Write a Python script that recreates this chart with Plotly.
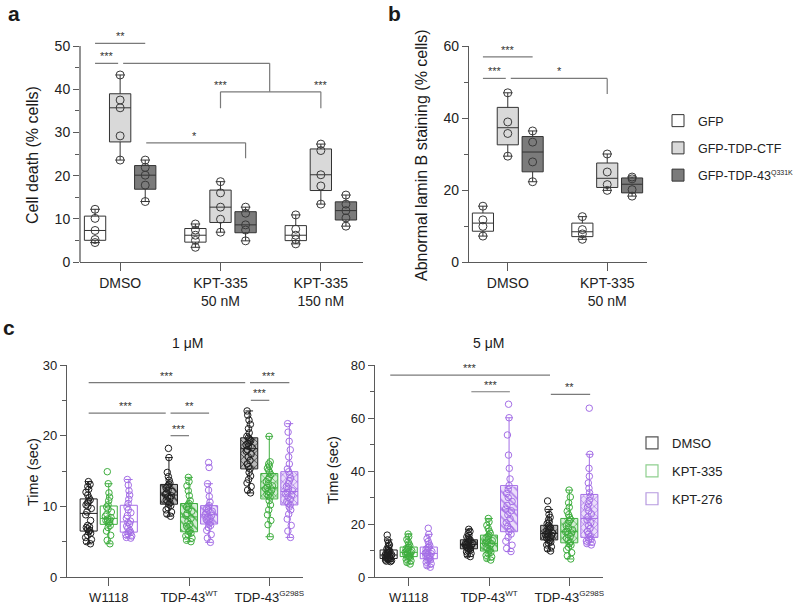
import numpy as np
import plotly.graph_objects as go

W, H = 800, 604
FONT = "Liberation Sans, Arial, Helvetica, sans-serif"


def px(x):
    return x / W


def py(y):
    return 1 - y / H


# ---------------- Panel a data ----------------
A_CATS = ["DMSO", "KPT-335<br>50 nM", "KPT-335<br>150 nM"]
A_SERIES = ["GFP", "GFP-TDP-CTF", "GFP-TDP-43<sup><span style='font-size:7px'>Q331K</span></sup>"]
A_GFP = [[12.2, 10.1, 7.3, 5.2, 4.5], [8.8, 7.4, 6.2, 5.0, 3.4], [10.9, 7.6, 6.2, 5.2, 4.2]]
A_CTF = [[43.3, 37.5, 35.7, 29.2, 23.6], [18.6, 16.0, 12.7, 9.9, 6.9], [27.3, 25.8, 20.2, 17.6, 13.4]]
A_Q331K = [[23.6, 21.9, 20.1, 17.8, 14.0], [12.7, 11.3, 8.6, 7.4, 4.9], [15.5, 13.4, 11.9, 10.2, 8.3]]

# ---------------- Panel b data ----------------
B_CATS = ["DMSO", "KPT-335<br>50 nM"]
B_GFP = [[15.5, 11.7, 9.9, 7.2], [12.6, 9.0, 7.8, 6.3]]
B_CTF = [[47.0, 38.9, 35.7, 29.4], [30.0, 25.0, 21.5, 19.9]]
B_Q331K = [[36.4, 33.3, 27.8, 22.3], [23.6, 23.1, 20.1, 18.3]]

# ---------------- Panel c data ----------------
C_CATS = ["W1118", "TDP-43<sup><span style='font-size:8px'>WT</span></sup>",
          "TDP-43<sup><span style='font-size:8px'>G298S</span></sup>"]
C_SERIES = ["DMSO", "KPT-335", "KPT-276"]

# 1 uM
C1_DMSO = [
    [4.7, 5.0, 5.3, 5.6, 5.9, 6.2, 6.4, 6.6, 6.8, 7.0, 7.1, 7.3, 8.0, 8.8, 9.2, 9.7, 10.0, 10.2, 10.5, 10.7,
     10.9, 11.2, 11.6, 12.0, 12.4, 12.8, 13.1, 13.5],
    [8.6, 8.9, 9.2, 9.5, 9.8, 10.1, 10.3, 10.5, 10.7, 10.9, 11.1, 11.3, 11.5, 11.7, 11.9, 12.1, 12.3, 12.6,
     12.9, 13.1, 13.3, 13.7, 14.2, 14.8, 16.9, 18.2],
    [11.9, 12.3, 12.8, 13.3, 13.8, 14.3, 14.8, 15.3, 15.6, 16.0, 16.5, 17.0, 17.4, 17.8, 18.0, 18.3, 18.5,
     18.7, 18.9, 19.1, 19.3, 19.5, 19.7, 19.9, 20.4, 21.0, 21.6, 22.2, 22.9, 23.5],
]
C1_KPT335 = [
    [4.7, 5.2, 5.9, 6.5, 7.0, 7.3, 7.6, 7.8, 7.9, 8.0, 8.1, 8.2, 8.4, 8.6, 8.9, 9.2, 9.6, 9.9, 10.2, 10.8,
     11.3, 11.9, 13.2, 14.9],
    [5.0, 5.2, 5.5, 5.8, 6.0, 6.2, 6.4, 6.6, 6.9, 7.2, 7.5, 7.9, 8.3, 8.7, 9.0, 9.3, 9.6, 9.9, 10.2, 10.4,
     10.8, 11.5, 12.2, 12.9, 13.5, 14.1],
    [5.7, 7.4, 8.0, 8.8, 9.5, 10.2, 10.8, 11.3, 11.5, 11.7, 11.9, 12.1, 12.3, 12.5, 12.7, 12.9, 13.2, 13.5,
     13.8, 14.1, 14.5, 14.8, 15.1, 15.4, 15.7, 16.0, 16.3, 19.9],
]
C1_KPT276 = [
    [5.5, 5.6, 5.8, 6.0, 6.1, 6.3, 6.4, 6.6, 6.9, 7.2, 7.5, 7.7, 7.9, 8.3, 8.7, 9.1, 9.5, 9.9, 10.4, 11.0,
     11.6, 12.2, 13.0, 13.8],
    [4.9, 5.5, 6.0, 6.6, 7.0, 7.3, 7.5, 7.7, 7.9, 8.1, 8.3, 8.5, 8.7, 8.9, 9.1, 9.3, 9.5, 9.7, 9.9, 10.1,
     10.6, 11.4, 12.3, 13.2, 15.5, 16.2],
    [5.6, 6.5, 7.3, 8.2, 8.9, 9.5, 9.9, 10.2, 10.4, 10.7, 11.0, 11.3, 11.6, 11.8, 12.0, 12.2, 12.5, 12.8,
     13.2, 13.6, 14.0, 14.5, 14.9, 15.3, 16.0, 17.0, 18.0, 19.2, 20.5, 21.7],
]

# 5 uM
C5_DMSO = [
    [5.8, 6.0, 6.2, 6.4, 6.6, 6.8, 6.9, 7.0, 7.2, 7.4, 7.6, 7.8, 8.0, 8.1, 8.2, 8.4, 8.6, 8.8, 9.0, 9.3,
     9.6, 9.9, 10.2, 10.5, 10.9, 11.5, 12.1, 12.8, 14.0, 15.8],
    [7.7, 8.3, 8.9, 9.5, 9.9, 10.2, 10.5, 10.8, 11.0, 11.3, 11.6, 11.8, 12.0, 12.2, 12.4, 12.6, 12.8, 13.0,
     13.3, 13.6, 13.9, 14.2, 14.6, 15.1, 15.7, 16.4, 17.2, 18.0],
    [9.8, 10.6, 11.4, 12.1, 12.7, 13.2, 13.6, 14.0, 14.3, 14.7, 15.0, 15.3, 15.7, 16.0, 16.3, 16.6, 16.9,
     17.2, 17.6, 18.0, 18.5, 19.0, 19.5, 20.1, 20.8, 21.6, 22.5, 23.6, 25.5, 28.7],
]
C5_KPT335 = [
    [4.9, 5.5, 6.1, 6.7, 7.1, 7.4, 7.7, 7.9, 8.2, 8.5, 8.8, 9.0, 9.2, 9.4, 9.6, 9.9, 10.3, 10.7, 11.0, 11.3,
     11.8, 12.5, 13.3, 14.2, 15.2, 16.2],
    [6.4, 7.0, 7.6, 8.2, 8.8, 9.3, 9.8, 10.3, 10.8, 11.3, 11.8, 12.3, 12.6, 12.8, 13.2, 13.7, 14.2, 14.8,
     15.3, 15.8, 16.5, 17.3, 18.3, 19.5, 20.8, 22.1],
    [6.8, 8.0, 9.2, 10.3, 11.2, 12.0, 12.6, 13.2, 13.9, 14.6, 15.3, 16.0, 16.6, 17.0, 17.2, 17.8, 18.5, 19.3,
     20.2, 21.0, 21.7, 22.5, 23.5, 24.8, 26.3, 28.0, 30.2, 32.8],
]
C5_KPT276 = [
    [3.7, 4.3, 5.0, 5.6, 6.1, 6.5, 6.9, 7.2, 7.5, 7.8, 8.1, 8.5, 8.8, 9.0, 9.3, 9.6, 10.0, 10.5, 11.0, 11.3,
     11.8, 12.5, 13.4, 14.5, 16.1, 18.4],
    [9.6, 10.8, 12.0, 13.5, 15.0, 16.2, 17.1, 18.0, 19.2, 20.5, 22.0, 23.5, 25.0, 25.6, 27.0, 28.5, 30.0,
     31.5, 33.0, 34.5, 37.0, 41.0, 46.0, 53.6, 60.1, 65.2],
    [12.1, 12.6, 13.1, 13.6, 14.0, 14.3, 14.6, 15.3, 16.2, 17.2, 18.3, 19.4, 20.5, 21.5, 22.7, 23.8, 25.0,
     26.3, 27.6, 28.9, 30.5, 31.8, 33.5, 35.5, 38.0, 41.0, 46.3, 63.7],
]

# significance brackets: (points as (category position, value), label, label anchor)
BR_A = [
    ([(-0.25, 50.6), (0.25, 50.6)], "**", (0.0, 50.6)),
    ([(-0.25, 46.0), (-0.02, 46.0)], "***", (-0.13, 46.0)),
    ([(0.03, 46.0), (1.49, 46.0), (1.49, 39.4)], None, None),
    ([(1.0, 35.6), (1.0, 39.4), (2.0, 39.4), (2.0, 35.6)], None, None),
    ([], "***", (1.0, 39.4)),
    ([], "***", (2.0, 39.4)),
    ([(0.26, 27.6), (1.25, 27.6), (1.25, 24.0)], "*", (0.74, 27.6)),
]
BR_B = [
    ([(-0.25, 57.0), (0.25, 57.0)], "***", (0.0, 57.0)),
    ([(-0.25, 51.0), (-0.02, 51.0)], "***", (-0.13, 51.0)),
    ([(0.03, 51.0), (1.0, 51.0), (1.0, 46.7)], "*", (0.52, 51.0)),
]
BR_C1 = [
    ([(-0.25, 27.5), (1.70, 27.5)], "***", (0.72, 27.5)),
    ([(1.76, 27.5), (2.25, 27.5)], "***", (2.0, 27.5)),
    ([(-0.25, 23.2), (0.71, 23.2)], "***", (0.22, 23.2)),
    ([(0.77, 23.2), (1.25, 23.2)], "**", (1.0, 23.2)),
    ([(0.77, 20.0), (1.0, 20.0)], "***", (0.88, 20.0)),
    ([(1.77, 25.0), (2.0, 25.0)], "***", (1.88, 25.0)),
]
BR_C5 = [
    ([(-0.23, 76.2), (1.76, 76.2)], "***", (0.76, 76.2)),
    ([(0.78, 69.9), (1.26, 69.9)], "***", (1.02, 69.9)),
    ([(1.77, 68.9), (2.26, 68.9)], "**", (2.0, 68.9)),
]

BOXGAP = 0.25
BOXGROUPGAP = 0.15
NSER = 3
BOXW = (1 - BOXGAP) * (1 - BOXGROUPGAP) / NSER


def shift(i):
    return (1 - BOXGAP) * (-0.5 + (i + 0.5) / NSER)


fig = go.Figure()

AXIS_COL = "#5a5a5a"
PT_COL = "#3a3a3a"


def add_box(groups, positions, name, xa, ya, ag, og, fill, line_col, mcol, msize, jitter,
            legend="legend", showlegend=False):
    xs, ys = [], []
    for p, vals in zip(positions, groups):
        xs += [p] * len(vals)
        ys += list(vals)
    fig.add_trace(go.Box(
        x=xs, y=ys, name=name, xaxis=xa, yaxis=ya,
        alignmentgroup=ag, offsetgroup=og, legendgroup=ag + og, legend=legend,
        showlegend=showlegend,
        fillcolor=fill, line=dict(color=line_col, width=1),
        boxpoints="all", jitter=jitter, pointpos=0, whiskerwidth=0.45,
        marker=dict(symbol="circle-open", size=msize, color=mcol,
                    line=dict(width=1, color=mcol)),
        hoverinfo="y",
    ))


# Panel a
A_FILLS = ["#ffffff", "#d9d9d9", "#7b7b7b"]
for i, (name, grp) in enumerate(zip(A_SERIES, [A_GFP, A_CTF, A_Q331K])):
    add_box(grp, list(range(len(A_CATS))), name, "x", "y", "a", name, A_FILLS[i], "#333333",
            PT_COL, 8, 0)

# Panel b (carries the legend)
for i, (name, grp) in enumerate(zip(A_SERIES, [B_GFP, B_CTF, B_Q331K])):
    add_box(grp, list(range(len(B_CATS))), name, "x2", "y2", "b", name, A_FILLS[i], "#333333",
            PT_COL, 8, 0, legend="legend", showlegend=True)

# Panel c
C_COLS = ["#1e1e1e", "#3fae3f", "#a46ee6"]
C_TINTS = ["rgba(30,30,30,0.30)", "rgba(63,174,63,0.22)", "rgba(164,110,230,0.22)"]
C_LEG_COLS = ["#555555", "#8fcf8f", "#b79ae0"]
PATTERNS = [None, "\\", "x"]
for sub, (xa, ya, ag, series_data) in enumerate([
        ("x3", "y3", "c1", [C1_DMSO, C1_KPT335, C1_KPT276]),
        ("x4", "y4", "c5", [C5_DMSO, C5_KPT335, C5_KPT276])]):
    for i, (name, grp) in enumerate(zip(C_SERIES, series_data)):
        for k, vals in enumerate(grp):
            pat = PATTERNS[k]
            if pat is not None:
                q1, q3 = np.percentile(vals, [25, 75])
                fig.add_trace(go.Bar(
                    x=[k], base=[q1], y=[q3 - q1], width=BOXW, offset=shift(i) - BOXW / 2,
                    xaxis=xa, yaxis=ya, showlegend=False, hoverinfo="skip",
                    marker=dict(color=C_TINTS[i], line=dict(width=0),
                                pattern=dict(shape=pat, fgcolor=C_COLS[i], fgopacity=0.8,
                                             size=5 if pat == "x" else 6, solidity=0.3)),
                ))
            add_box([vals], [k], name, xa, ya, ag, name, "rgba(255,255,255,0)", C_COLS[i],
                    C_COLS[i], 6.5, 0.45, legend="legend2", showlegend=False)

# legend-only entries for panel c (outlined squares)
for i, name in enumerate(C_SERIES):
    fig.add_trace(go.Box(
        x=[None], y=[None], name=name, xaxis="x4", yaxis="y4", alignmentgroup="leg",
        offsetgroup=name, legendgroup="leg" + name, legend="legend2", showlegend=True,
        fillcolor="rgba(255,255,255,0)", line=dict(color=C_LEG_COLS[i], width=1.2),
        boxpoints=False,
    ))

# brackets
shapes = []
annotations = []
BR_COL = "#7a7a7a"
for xa, ya, brs in [("x", "y", BR_A), ("x2", "y2", BR_B), ("x3", "y3", BR_C1), ("x4", "y4", BR_C5)]:
    for pts, lab, lpos in brs:
        for (x0, y0), (x1, y1) in zip(pts[:-1], pts[1:]):
            shapes.append(dict(type="line", xref=xa, yref=ya, x0=x0, y0=y0, x1=x1, y1=y1,
                               line=dict(color=BR_COL, width=1.2)))
        if lab:
            annotations.append(dict(xref=xa, yref=ya, x=lpos[0], y=lpos[1], text=lab,
                                    showarrow=False, yanchor="bottom", yshift=-1,
                                    font=dict(size=11, color="#333333", family=FONT)))

# panel a: y-axis line only up to 50
shapes.append(dict(type="line", xref="x domain", yref="y", x0=0, x1=0, y0=0, y1=50,
                   line=dict(color=AXIS_COL, width=1.3)))


def txt(x, y, s, size, bold=False, angle=0):
    annotations.append(dict(xref="paper", yref="paper", x=px(x), y=py(y), text=s,
                            showarrow=False, xanchor="center", yanchor="middle",
                            textangle=angle,
                            font=dict(size=size, color="#1a1a1a", family=FONT,
                                      weight="bold" if bold else "normal")))


txt(14, 13, "a", 21, bold=True)
txt(394, 13, "b", 21, bold=True)
txt(9, 327, "c", 21, bold=True)
txt(32, 155, "Cell death (% cells)", 16, angle=-90)
txt(421, 155, "Abnormal lamin B staining (% cells)", 16, angle=-90)
txt(33, 472, "Time (sec)", 14.5, angle=-90)
txt(333, 470, "Time (sec)", 14.5, angle=-90)
txt(187, 343, "1 μM", 14)
txt(488, 343, "5 μM", 14)


def yax(domain, rng, dtick, minor, size, showline=True):
    return dict(domain=domain, range=rng, dtick=dtick, tick0=0, showgrid=False, zeroline=False,
                automargin=False,
                showline=showline, linecolor=AXIS_COL, linewidth=1.3, ticks="outside",
                ticklen=6, tickwidth=1.2, tickcolor=AXIS_COL,
                minor=dict(dtick=minor, tick0=0, ticks="outside", ticklen=4, tickwidth=1.2,
                           tickcolor=AXIS_COL),
                tickfont=dict(size=size, color="#222222", family=FONT))


def xax(domain, rng, cats, size, anchor):
    return dict(domain=domain, range=rng, anchor=anchor, tickmode="array", automargin=False,
                tickvals=list(range(len(cats))), ticktext=cats, showgrid=False, zeroline=False,
                showline=True, linecolor=AXIS_COL, linewidth=1.3, ticks="outside", ticklen=8,
                tickwidth=1.2, tickcolor=AXIS_COL,
                tickfont=dict(size=size, color="#222222", family=FONT))


fig.update_layout(
    width=W, height=H, margin=dict(l=0, r=0, t=0, b=0, autoexpand=False),
    paper_bgcolor="white", plot_bgcolor="white",
    font=dict(family=FONT, color="#222222"),
    boxmode="group", boxgap=BOXGAP, boxgroupgap=BOXGROUPGAP, barmode="overlay",
    xaxis=xax([px(80), px(363)], [-0.40, 2.42], A_CATS, 14, "y"),
    yaxis=dict(yax([py(262), py(26.6)], [0, 54.5], 10, 5, 14, showline=False), anchor="x"),
    xaxis2=xax([px(469), px(647)], [-0.39, 1.40], B_CATS, 14, "y2"),
    yaxis2=dict(yax([py(262), py(46)], [0, 60], 20, 10, 14), anchor="x2"),
    xaxis3=xax([px(67), px(303)], [-0.52, 2.42], C_CATS, 13, "y3"),
    yaxis3=dict(yax([py(577), py(365)], [0, 30], 10, 5, 13), anchor="x3"),
    xaxis4=xax([px(375), px(603)], [-0.42, 2.42], C_CATS, 13, "y4"),
    yaxis4=dict(yax([py(577), py(365)], [0, 80], 20, 10, 13), anchor="x4"),
    legend=dict(x=px(658), y=py(106), xanchor="left", yanchor="top", traceorder="grouped",
                tracegroupgap=8, bgcolor="rgba(0,0,0,0)",
                font=dict(size=12.5, color="#222222", family=FONT)),
    legend2=dict(x=px(632), y=py(428), xanchor="left", yanchor="top", traceorder="grouped",
                 tracegroupgap=8, bgcolor="rgba(0,0,0,0)",
                 font=dict(size=13, color="#222222", family=FONT)),
    shapes=shapes, annotations=annotations,
)

fig.write_html("out.html", config={"displayModeBar": False},
               post_script="document.body.style.margin='0px';")
